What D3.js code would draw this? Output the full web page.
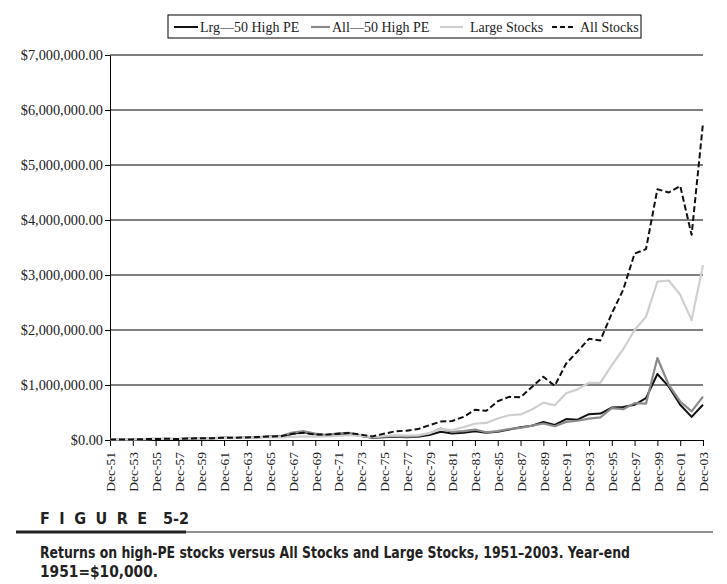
<!DOCTYPE html>
<html lang="en">
<head>
<meta charset="UTF-8">
<title>Figure 5-2</title>
<script src="https://d3js.org/d3.v7.min.js"></script>
<style>
  body { margin: 0; background: #fff; }
  svg { display: block; }
</style>
</head>
<body>
<div id="main"></div>
<script>
// categories: year-end labels 1951-2003
var years = ['Dec-51','Dec-52','Dec-53','Dec-54','Dec-55','Dec-56','Dec-57','Dec-58','Dec-59','Dec-60',
  'Dec-61','Dec-62','Dec-63','Dec-64','Dec-65','Dec-66','Dec-67','Dec-68','Dec-69','Dec-70',
  'Dec-71','Dec-72','Dec-73','Dec-74','Dec-75','Dec-76','Dec-77','Dec-78','Dec-79','Dec-80',
  'Dec-81','Dec-82','Dec-83','Dec-84','Dec-85','Dec-86','Dec-87','Dec-88','Dec-89','Dec-90',
  'Dec-91','Dec-92','Dec-93','Dec-94','Dec-95','Dec-96','Dec-97','Dec-98','Dec-99','Dec-00',
  'Dec-01','Dec-02','Dec-03']

// value of $10,000 invested
var lrgHighPE = [10000,11000,11000,15000,17000,20000,18000,26000,30000,31000,
  40000,36000,42000,48000,58000,60000,115000,140000,105000,85000,
  110000,120000,72000,42000,52000,60000,52000,60000,90000,150000,
  120000,130000,160000,130000,150000,190000,230000,260000,330000,275000,
  380000,370000,470000,480000,590000,600000,640000,760000,1200000,970000,
  640000,420000,640000]
var allHighPE = [10000,11000,11000,16000,19000,21000,18000,28000,33000,33000,
  44000,38000,45000,52000,65000,70000,135000,160000,115000,90000,
  120000,130000,78000,45000,60000,72000,62000,72000,120000,210000,
  150000,160000,190000,140000,160000,200000,220000,260000,300000,250000,
  330000,350000,390000,410000,580000,560000,670000,660000,1490000,1000000,
  700000,520000,790000]
var largeStocks = [10000,11000,11000,16000,20000,21000,19000,27000,30000,30000,
  37000,34000,40000,46000,50000,46000,58000,66000,62000,64000,
  73000,86000,74000,54000,74000,90000,82000,90000,125000,200000,
  180000,235000,295000,310000,390000,450000,465000,555000,680000,630000,
  850000,920000,1040000,1040000,1360000,1650000,2000000,2240000,2880000,2900000,
  2640000,2180000,3180000]
var allStocks = [10000,11000,11000,16000,19000,21000,19000,29000,33000,34000,
  43000,40000,47000,55000,62000,68000,112000,130000,100000,100000,
  115000,128000,98000,65000,112000,158000,170000,198000,268000,335000,
  345000,420000,550000,530000,705000,785000,775000,965000,1150000,985000,
  1390000,1610000,1840000,1810000,2300000,2730000,3390000,3470000,4560000,4500000,
  4620000,3730000,5760000]

var seriesNames = ['Lrg\u201450 High PE','All\u201450 High PE','Large Stocks','All Stocks']
var yTicks = [0,1000000,2000000,3000000,4000000,5000000,6000000,7000000]

var width = 727, height = 584
var plotLeft = 110, plotRight = 703, plotTop = 55, plotBottom = 440
var serif = '"Liberation Serif", "Times New Roman", serif'
var sans = '"Liberation Sans Narrow", "DejaVu Sans Condensed", "DejaVu Sans", sans-serif'

var svg = d3.select('#main').append('svg')
  .attr('width', width).attr('height', height)

var xScale = d3.scalePoint().domain(years).range([plotLeft, plotRight])
var yScale = d3.scaleLinear().domain([0, 7000000]).range([plotBottom, plotTop])

// horizontal grid lines
svg.append('g').selectAll('line')
  .data(yTicks.slice(1))
  .enter().append('line')
  .attr('x1', plotLeft).attr('x2', plotRight)
  .attr('y1', d => yScale(d)).attr('y2', d => yScale(d))
  .attr('stroke', '#000').attr('stroke-width', 1)

// y axis
var yAxis = svg.append('g')
  .attr('transform', `translate(${plotLeft},0)`)
  .call(d3.axisLeft(yScale).tickValues(yTicks).tickFormat(d3.format('$,.2f')).tickSize(5).tickSizeOuter(0).tickPadding(2))
yAxis.select('.domain').attr('stroke', '#000')
yAxis.selectAll('text')
  .attr('font-family', serif)
  .attr('font-size', 14.3).attr('fill', '#222')

// x axis, tick every other year
var xAxis = svg.append('g')
  .attr('transform', `translate(0,${plotBottom})`)
  .call(d3.axisBottom(xScale).tickValues(years.filter((d, i) => i % 2 == 0)).tickSize(6).tickSizeOuter(0))
xAxis.select('.domain').attr('stroke', '#000')
xAxis.selectAll('text')
  .attr('font-family', serif)
  .attr('font-size', 13.5).attr('fill', '#222')
  .attr('transform', 'rotate(-90)')
  .attr('text-anchor', 'end')
  .attr('x', -12).attr('y', 0).attr('dy', '0.35em')

// lines
var styles = [
  {data: lrgHighPE, color: '#111', w: 2, dash: null},
  {data: allHighPE, color: '#8a8a8a', w: 2.2, dash: null},
  {data: largeStocks, color: '#cfcfcf', w: 2.2, dash: null},
  {data: allStocks, color: '#111', w: 2, dash: '6,3'}
]
var line = d3.line()
  .x((d, i) => xScale(years[i]))
  .y(d => yScale(d))

svg.append('g').selectAll('path')
  .data(styles)
  .enter().append('path')
  .attr('d', s => line(s.data))
  .attr('fill', 'none')
  .attr('stroke', s => s.color)
  .attr('stroke-width', s => s.w)
  .attr('stroke-dasharray', s => s.dash)
  .attr('stroke-linejoin', 'round')

// legend
var legend = svg.append('g')
legend.append('rect')
  .attr('x', 168).attr('y', 15).attr('width', 473).attr('height', 23)
  .attr('fill', '#fff').attr('stroke', '#000').attr('stroke-width', 1)
var legendX = [174, 311, 440, 552]
var legendLen = [24, 19, 23, 21]
seriesNames.forEach(function (name, i) {
  legend.append('line')
    .attr('x1', legendX[i]).attr('x2', legendX[i] + legendLen[i])
    .attr('y1', 27).attr('y2', 27)
    .attr('stroke', styles[i].color).attr('stroke-width', styles[i].w)
    .attr('stroke-dasharray', i == 3 ? '5,3' : null)
  legend.append('text')
    .attr('x', legendX[i] + legendLen[i] + (i >= 2 ? 7 : 2)).attr('y', 31.5)
    .attr('font-family', serif)
    .attr('font-size', 14).attr('fill', '#222')
    .text(name)
})

// figure caption
var cap = svg.append('g')
cap.append('text')
  .attr('x', 40).attr('y', 524)
  .attr('font-family', sans)
  .attr('font-weight', 'bold').attr('font-size', 16).attr('fill', '#222')
  .attr('letter-spacing', 9.5)
  .text('FIGURE')
cap.append('text')
  .attr('x', 163).attr('y', 524)
  .attr('font-family', sans)
  .attr('font-weight', 'bold').attr('font-size', 16).attr('fill', '#222')
  .text('5-2')
cap.append('line')
  .attr('x1', 16).attr('x2', 186).attr('y1', 532).attr('y2', 532)
  .attr('stroke', '#222').attr('stroke-width', 3)
cap.append('line')
  .attr('x1', 186).attr('x2', 713).attr('y1', 532).attr('y2', 532)
  .attr('stroke', '#222').attr('stroke-width', 1)
var capLines = ['Returns on high-PE stocks versus All Stocks and Large Stocks, 1951\u20132003. Year-end', '1951=$10,000.']
var capWidths = [590, 118]
cap.selectAll('text.cl')
  .data(capLines)
  .enter().append('text')
  .attr('class', 'cl')
  .attr('x', 40).attr('y', (d, i) => 558 + i * 19)
  .attr('font-family', sans)
  .attr('font-weight', 'bold').attr('font-size', 15).attr('fill', '#222')
  .attr('textLength', (d, i) => capWidths[i])
  .attr('lengthAdjust', 'spacingAndGlyphs')
  .text(d => d)
</script>
</body>
</html>
